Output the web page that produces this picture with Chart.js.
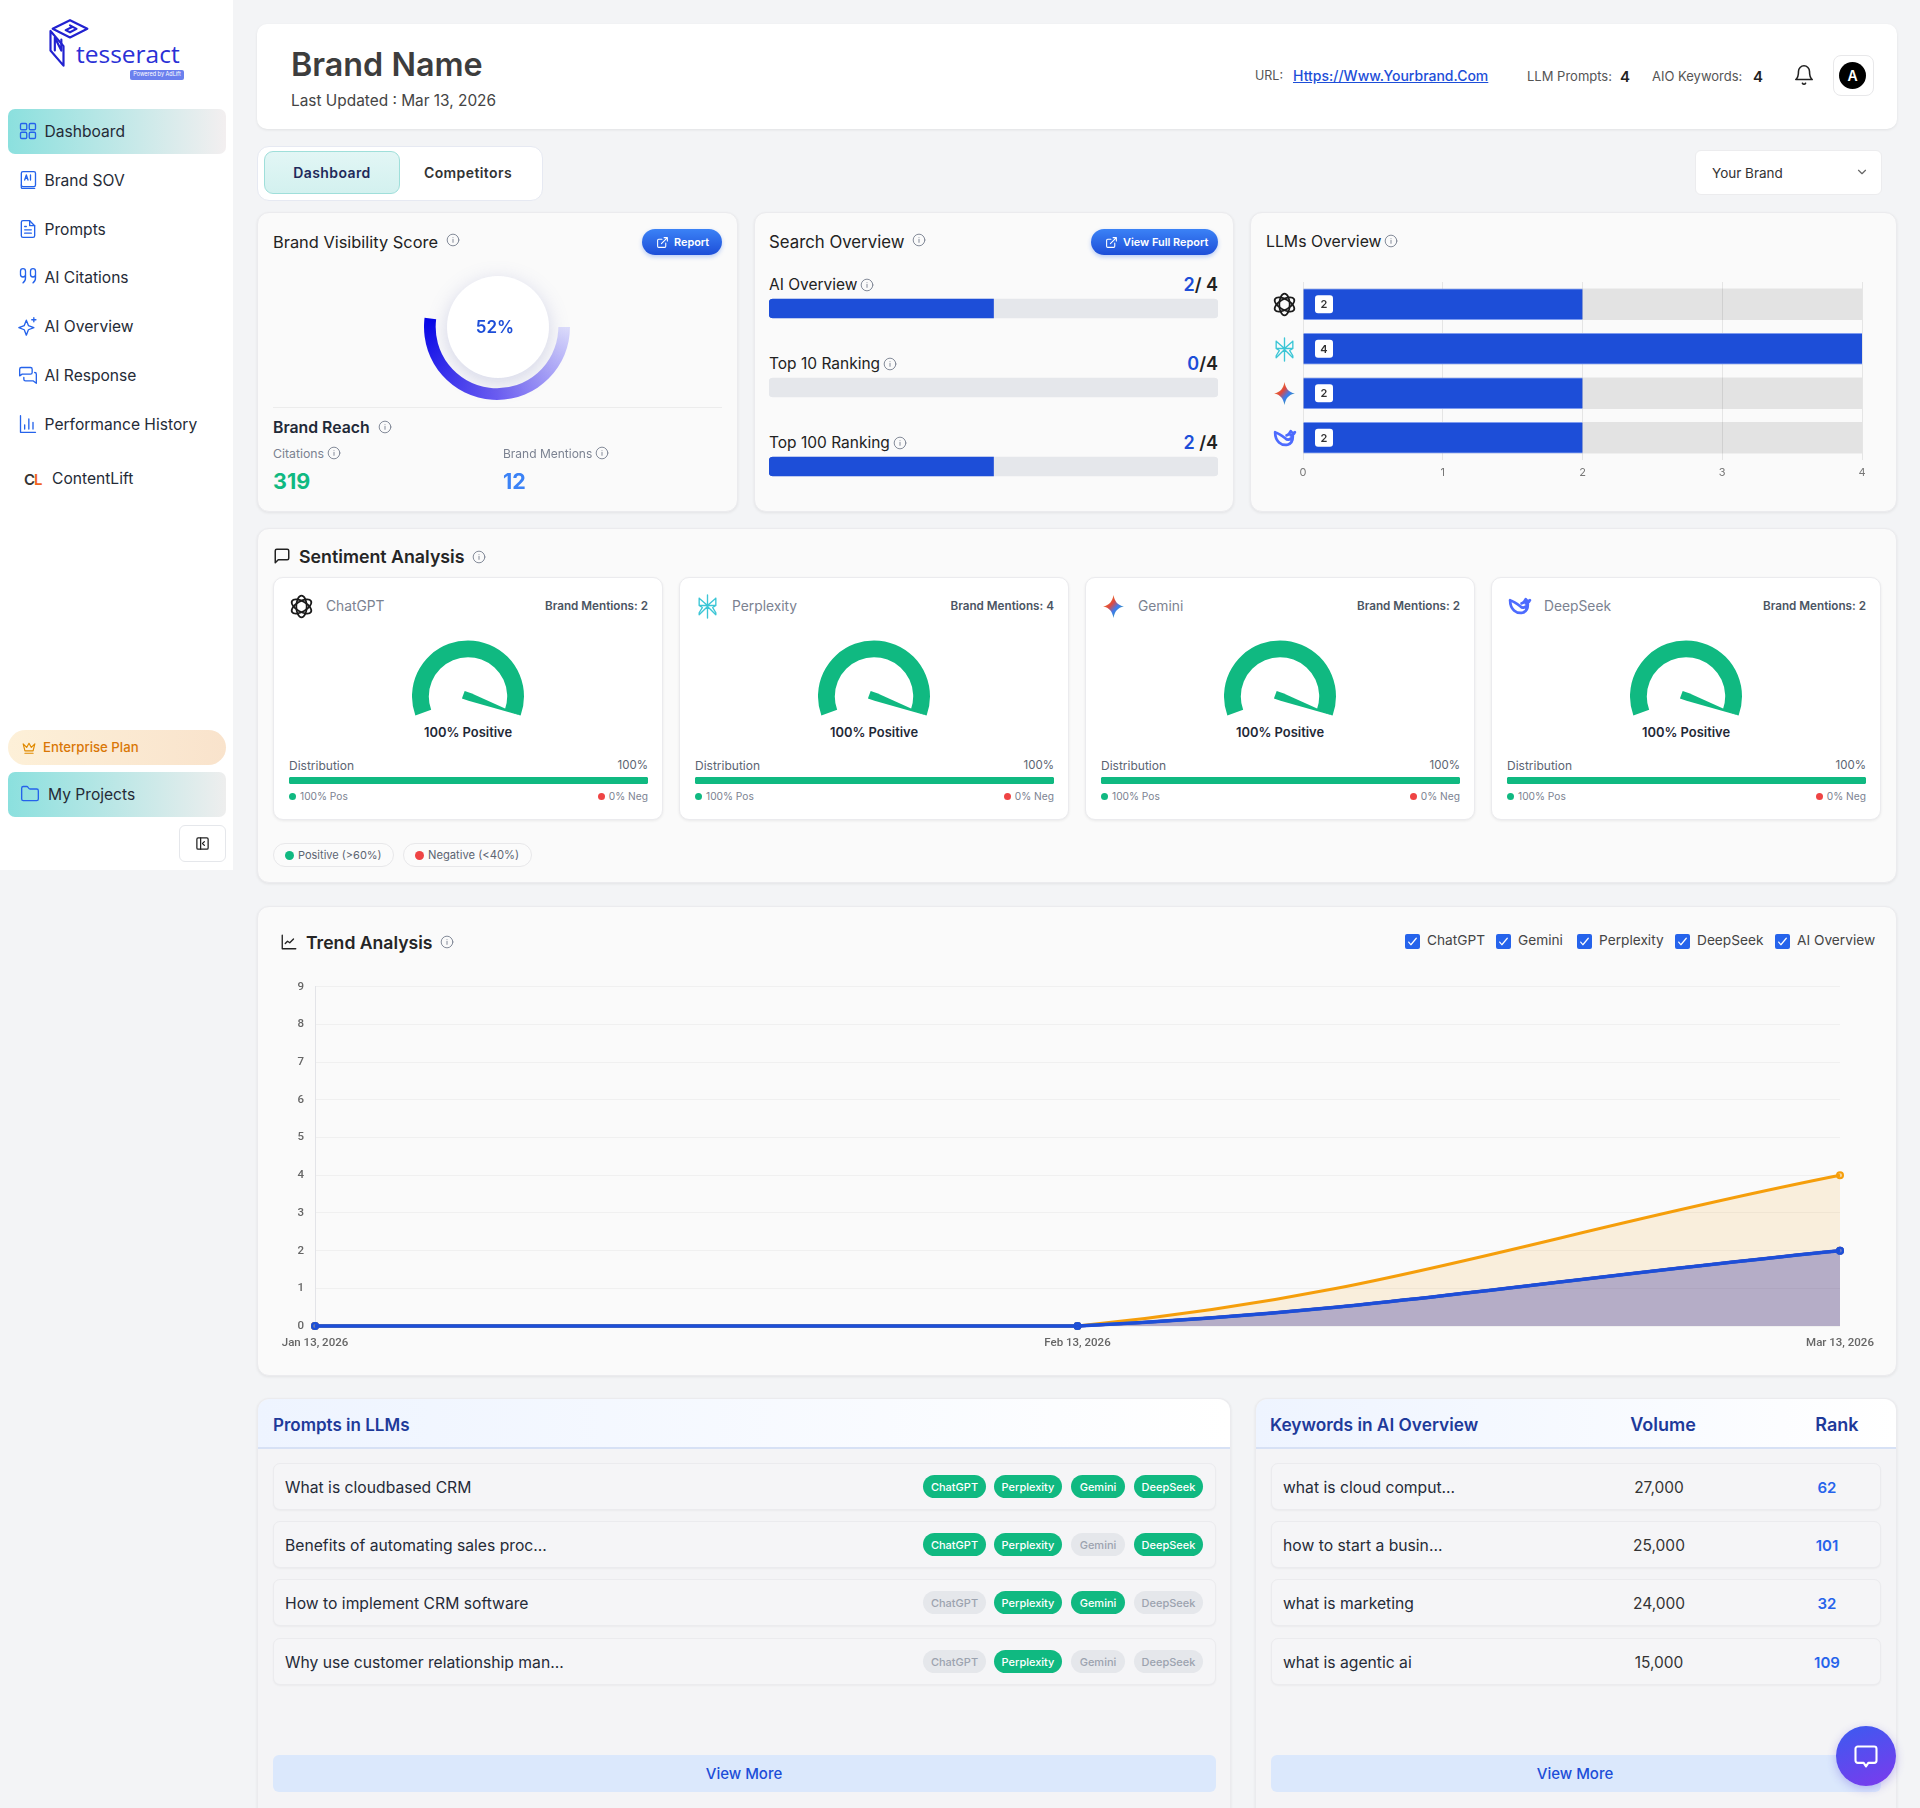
<!DOCTYPE html>
<html>
<head>
<meta charset="utf-8">
<title>Brand Dashboard</title>
<script src="https://cdn.jsdelivr.net/npm/chart.js@4"></script>
<style>
  html, body { margin: 0; padding: 0; background: #f3f4f6; }
  #page { position: relative; width: 1920px; height: 1808px; overflow: hidden; font-family: Inter, sans-serif; color: #1f2937; }
  #page div, #page span, #page svg, #page canvas { position: absolute; box-sizing: border-box; }
  .txt { white-space: nowrap; line-height: 1; }
  .card { background: #fafafa; border: 1px solid #ebebee; border-radius: 12px; box-shadow: 0 1px 3px rgba(0,0,0,.07); }
  .sub { background: #fff; border: 1px solid #ebebee; border-radius: 10px; box-shadow: 0 1px 3px rgba(0,0,0,.07); }
</style>
</head>
<body>
<div id="page"></div>
<script>
const navLabels = ['Dashboard', 'Brand SOV', 'Prompts', 'AI Citations', 'AI Overview', 'AI Response', 'Performance History'];

const gaugeScore = 52;
const citations = 319;
const brandMentions = 12;

const searchLabels = ['AI Overview', 'Top 10 Ranking', 'Top 100 Ranking'];
const searchValues = [2, 0, 2];
const searchTexts = ['2/ 4', '0/4', '2 /4'];
const searchTotal = 4;

const llmNames = ['ChatGPT', 'Perplexity', 'Gemini', 'DeepSeek'];
const llmValues = [2, 4, 2, 2];
const llmMax = 4;

const sentimentPositive = [100, 100, 100, 100];
const sentimentNegative = [0, 0, 0, 0];

const trendDates = ['Jan 13, 2026', 'Feb 13, 2026', 'Mar 13, 2026'];
const trendLegend = ['ChatGPT', 'Gemini', 'Perplexity', 'DeepSeek', 'AI Overview'];
const trendChatGPT = [0, 0, 2];
const trendGemini = [0, 0, 2];
const trendPerplexity = [0, 0, 4];
const trendDeepSeek = [0, 0, 2];
const trendAIOverview = [0, 0, 2];
const trendTicksMax = 9;

const promptTexts = ['What is cloudbased CRM', 'Benefits of automating sales proc...', 'How to implement CRM software', 'Why use customer relationship man...'];
const promptBadges = ['ChatGPT', 'Perplexity', 'Gemini', 'DeepSeek'];
const promptActive = [[1, 1, 1, 1], [1, 1, 0, 1], [0, 1, 1, 0], [0, 1, 0, 0]];

const keywordTexts = ['what is cloud comput...', 'how to start a busin...', 'what is marketing', 'what is agentic ai'];
const keywordVolumes = ['27,000', '25,000', '24,000', '15,000'];
const keywordRanks = [62, 101, 32, 109];

const BLUE = '#1d4ed8';
const GREEN = '#10b981';
const page = document.getElementById('page');

Chart.defaults.animation = false;
Chart.defaults.responsive = false;
Chart.defaults.devicePixelRatio = 1;
Chart.defaults.plugins.legend.display = false;
Chart.defaults.plugins.tooltip.enabled = false;
Chart.defaults.font.family = 'Inter';

function box(x, y, w, h, css, cls) {
  const d = document.createElement('div');
  d.style.cssText = `left:${x}px;top:${y}px;width:${w}px;height:${h}px;${css || ''}`;
  if (cls) d.className = cls;
  page.appendChild(d);
  return d;
}

// anchor: 0 left, .5 centre, 1 right; y is the vertical centre of the text
function text(x, y, str, size, css, anchor) {
  const s = document.createElement('span');
  s.className = 'txt';
  s.style.cssText = `left:${x}px;top:${y}px;font-size:${size}px;transform:translate(${-(anchor || 0) * 100}%,-50%);${css || ''}`;
  s.innerHTML = str;
  page.appendChild(s);
  return s;
}

function icon(cx, cy, size, inner, color, width) {
  const wrap = document.createElement('div');
  wrap.style.cssText = `left:${cx - size / 2}px;top:${cy - size / 2}px;width:${size}px;height:${size}px;`;
  wrap.innerHTML = `<svg viewBox="0 0 24 24" width="${size}" height="${size}" fill="none" stroke="${color}" stroke-width="${width || 2}" stroke-linecap="round" stroke-linejoin="round">${inner}</svg>`;
  page.appendChild(wrap);
  return wrap;
}

const INFO = '<circle cx="12" cy="12" r="10"/><path d="M12 16v-5M12 8h.01"/>';
function info(cx, cy) { icon(cx, cy, 14, INFO, '#7b8291', 1.6); }

function canvas(x, y, w, h, z) {
  const c = document.createElement('canvas');
  c.width = w; c.height = h;
  c.style.cssText = `left:${x}px;top:${y}px;width:${w}px;height:${h}px;${z ? 'z-index:' + z : ''}`;
  page.appendChild(c);
  return c;
}

function llmIcon(name, cx, cy, size) {
  if (name === 'ChatGPT') {
    icon(cx, cy, size, '<ellipse cx="12" cy="12" rx="5" ry="10.5"/><ellipse cx="12" cy="12" rx="5" ry="10.5" transform="rotate(60 12 12)"/><ellipse cx="12" cy="12" rx="5" ry="10.5" transform="rotate(120 12 12)"/>', '#1a1a1a', 1.7);
  } else if (name === 'Perplexity') {
    icon(cx, cy, size, '<path d="M12 1v22M4 4l8 7 8-7M4 20l8-8 8 8M4 4v7l3 2-3 5v2M20 4v7l-3 2 3 5v2M4 11h16"/>', '#3cc6d6', 1.3);
  } else if (name === 'Gemini') {
    const w = icon(cx, cy, size, '', 'none');
    const id = 'g' + Math.round(cx) + Math.round(cy);
    w.firstChild.innerHTML = `<defs><linearGradient id="${id}" x1="0" y1="0" x2="1" y2="1"><stop offset="0" stop-color="#f0a020"/><stop offset=".4" stop-color="#e0483e"/><stop offset=".6" stop-color="#3d7cf0"/><stop offset="1" stop-color="#27a85f"/></linearGradient></defs><path d="M12 1c1 6 4 10 10 11-6 1-9 5-10 11-1-6-4-10-10-11 6-1 9-5 10-11z" fill="url(#${id})" stroke="none"/>`;
  } else {
    icon(cx, cy, size, '<path d="M3 6c0 9 6 13 12 12 3-1 5-4 5-8-2 3-5 4-7 2M3 6c3 1 6 3 10 6M14 9c2 0 3-2 4-4 1 2 3 2 4 1-1 2-2 3-4 3"/>', '#4d6bfe', 2.6);
  }
}

function sidebar() {
  box(0, 0, 233, 870, 'background:#fff;');
  // logo
  icon(70, 44, 52, '<path d="M12 1l8 4-8 4-8-4zM12 3.4l3 1.6-3 1.6-2-1 3-1.4M3 6v9l6 7v-9z"/><path d="M5 9v6M5 9l3 6v-5"/>', '#2222d0', 1);
  text(76, 54, 'tesseract', 24.5, 'color:#2a2fd6;font-family:\'Open Sans\';');
  box(130, 70, 54, 10, 'background:#6b80ee;border-radius:2px;');
  text(157, 75, 'Powered by AdLift', 5.5, 'color:#fff;', .5);

  box(8, 109, 218, 45, 'background:linear-gradient(90deg,#8be0de,#f3eff0);border-radius:7px;');
  const navY = [131, 180, 229, 277, 326, 375, 424];
  const navIcons = [
    '<rect x="3" y="3" width="7.5" height="7.5" rx="1.5"/><rect x="13.5" y="3" width="7.5" height="7.5" rx="1.5"/><rect x="3" y="13.5" width="7.5" height="7.5" rx="1.5"/><rect x="13.5" y="13.5" width="7.5" height="7.5" rx="1.5"/>',
    '<rect x="4" y="2" width="17" height="18" rx="2"/><path d="M4 18v3a1 1 0 0 0 1 1h15M8 12l2-6 2 6M9 10h2M15 6v6"/>',
    '<path d="M14 2H6a2 2 0 0 0-2 2v16a2 2 0 0 0 2 2h12a2 2 0 0 0 2-2V8z"/><path d="M14 2v6h6M8 13h8M8 17h8M8 9h2"/>',
    '<path d="M3 5a3 3 0 0 1 6 0v8a7 7 0 0 1-3 6M3 5v4a3 3 0 0 0 6 0M15 5a3 3 0 0 1 6 0v8a7 7 0 0 1-3 6M15 5v4a3 3 0 0 0 6 0"/>',
    '<path d="M10 5l2.5 6.5L19 14l-6.5 2.5L10 23l-2.5-6.5L1 14l6.5-2.5z"/><path d="M19 2v5M16.5 4.5h5"/>',
    '<path d="M15 3H4a2 2 0 0 0-2 2v8l3-2h10a2 2 0 0 0 2-2V5a2 2 0 0 0-2-2zM20 9a2 2 0 0 1 2 2v11l-4-3H9a2 2 0 0 1-2-2v-2"/>',
    '<path d="M3 2v20h18M8 18v-5M13 18V6M18 18v-8"/>'
  ];
  navLabels.forEach((label, i) => {
    icon(28, navY[i], 20, navIcons[i], '#2563eb', 1.6);
    text(44.5, navY[i] + 1, label, 15.6, 'color:#252b37;');
  });
  text(24, 479, 'C', 15, 'color:#333;font-weight:600;');
  text(34, 479, 'L', 15, 'color:#f2641e;font-weight:600;');
  text(52, 479, 'ContentLift', 15.6, 'color:#252b37;');

  box(8, 730, 218, 35, 'background:linear-gradient(90deg,#fdf0d8,#f9e3cc);border-radius:18px;');
  icon(29, 748, 14, '<path d="M2 5l3 12h14l3-12-6 6-4-7-4 7zM5 21h14"/>', '#e08a00', 2);
  text(43, 748, 'Enterprise Plan', 13.2, 'color:#d97706;font-weight:500;');
  box(8, 772, 218, 45, 'background:linear-gradient(90deg,#8be0de,#eeeeee);border-radius:7px;');
  icon(30, 794, 20, '<path d="M20 20a2 2 0 0 0 2-2V8a2 2 0 0 0-2-2h-7.9a2 2 0 0 1-1.69-.9L9.6 3.9A2 2 0 0 0 7.93 3H4a2 2 0 0 0-2 2v13a2 2 0 0 0 2 2Z"/>', '#2563eb', 1.6);
  text(48, 795, 'My Projects', 15.6, 'color:#252b37;');
  box(179, 825, 47, 37, 'background:#fff;border:1px solid #e5e7eb;border-radius:6px;');
  icon(202, 843, 15, '<rect x="3" y="3" width="18" height="18" rx="2"/><path d="M9 3v18M15 9l-3 3 3 3"/>', '#222', 2);
}

function header() {
  box(257, 24, 1640, 105, 'background:#fff;box-shadow:0 1px 3px rgba(0,0,0,.08);border-radius:10px;');
  text(291, 65, 'Brand Name', 32.3, 'color:#3d3d3d;font-weight:600;');
  text(291, 101, 'Last Updated : Mar 13, 2026', 15.4, 'color:#444;');
  text(1255, 75.5, 'URL:', 12.5, 'color:#555;');
  text(1293, 75.5, 'Https://Www.Yourbrand.Com', 14, 'color:#1d4ed8;text-decoration:underline;font-weight:500;');
  text(1527, 75.5, 'LLM Prompts:', 13, 'color:#555;');
  text(1620, 75.5, '4', 15, 'color:#222;font-weight:600;');
  text(1652, 75.5, 'AIO Keywords:', 13, 'color:#555;');
  text(1753, 75.5, '4', 15, 'color:#222;font-weight:600;');
  icon(1804, 75, 22, '<path d="M6 8a6 6 0 0 1 12 0c0 7 3 9 3 9H3s3-2 3-9"/><path d="M10.3 21a1.94 1.94 0 0 0 3.4 0"/>', '#222', 1.7);
  box(1833, 55, 41, 41, 'background:#fff;border:1px solid #e8e8ea;border-radius:8px;');
  box(1839, 62, 27, 27, 'background:#000;border-radius:50%;');
  text(1852.5, 75.5, 'A', 14, 'color:#fff;font-weight:600;', .5);

  box(257, 146, 286, 55, 'background:#fff;border:1px solid #e6e9f2;border-radius:12px;');
  box(264, 151, 136, 43, 'background:linear-gradient(180deg,#e2f6f5,#d3f1ef);border:1px solid #9fdfda;border-radius:9px;');
  text(332, 172.5, 'Dashboard', 14, 'color:#1e2a5a;font-weight:600;letter-spacing:.4px;', .5);
  text(468, 172.5, 'Competitors', 14, 'color:#333;font-weight:600;letter-spacing:.4px;', .5);
  box(1695, 150, 187, 45, 'background:#fff;border:1px solid #ececee;border-radius:6px;');
  text(1712, 174, 'Your Brand', 13.5, 'color:#333;');
  icon(1862, 172, 14, '<path d="m6 9 6 6 6-6"/>', '#666', 2);
}

function pillButton(x, y, w, label) {
  box(x, y, w, 26, 'background:linear-gradient(180deg,#3b82f6,#1d4ed8);border-radius:13px;box-shadow:0 2px 4px rgba(37,99,235,.3);');
  icon(x + 20, y + 13, 13, '<path d="M18 13v6a2 2 0 0 1-2 2H5a2 2 0 0 1-2-2V8a2 2 0 0 1 2-2h6"/><path d="M15 3h6v6M10 14 21 3"/>', '#fff', 2);
  text(x + 32, y + 13, label, 10.9, 'color:#fff;font-weight:600;');
}

function visibilityCard() {
  box(257, 212, 481, 300, '', 'card');
  text(273, 242, 'Brand Visibility Score', 16.4, 'color:#222;');
  info(453, 240);
  pillButton(642, 229, 80, 'Report');

  new Chart(canvas(424, 254, 146, 146), {
    type: 'doughnut',
    data: { datasets: [{
      data: [gaugeScore, 100 - gaugeScore],
      borderWidth: 0,
      backgroundColor: c => {
        if (c.dataIndex !== 0) return 'rgba(0,0,0,0)';
        const { ctx, chartArea } = c.chart;
        if (!chartArea) return '#2a20ee';
        const g = ctx.createConicGradient(0, (chartArea.left + chartArea.right) / 2, (chartArea.top + chartArea.bottom) / 2);
        g.addColorStop(0, '#dcdcfb');
        g.addColorStop(.25, '#6a5cf2');
        g.addColorStop(.52, '#0505e6');
        g.addColorStop(1, '#dcdcfb');
        return g;
      }
    }] },
    options: { rotation: 90, cutout: '84%', layout: { padding: 0 } }
  });
  box(447, 276, 102, 102, 'background:#fff;border-radius:50%;box-shadow:0 5px 20px rgba(120,125,190,.3);');
  text(495, 327, gaugeScore + '%', 17, 'color:#1d4ed8;font-weight:600;', .5);

  box(273, 407, 449, 1, 'background:#ececec;');
  text(273, 428, 'Brand Reach', 15.8, 'color:#1f2937;font-weight:600;');
  info(385, 427);
  text(273, 453.5, 'Citations', 12.3, 'color:#7b8291;');
  info(334, 453);
  text(503, 453.5, 'Brand Mentions', 12, 'color:#7b8291;');
  info(602, 453);
  text(273, 482, citations, 21.5, 'color:#10b981;font-weight:700;');
  text(503, 482, brandMentions, 21.5, 'color:#3b82f6;font-weight:700;');
}

function searchCard() {
  box(754, 212, 480, 300, '', 'card');
  text(769, 242, 'Search Overview', 16.8, 'color:#222;');
  info(919, 240);
  pillButton(1091, 229, 127, 'View Full Report');

  const labelW = [89, 112, 122];
  searchLabels.forEach((label, i) => {
    const y = 285 + i * 79;
    text(769, y, label, 15.5, 'color:#222;');
    info(769 + labelW[i] + 9, y);
    const s = searchTexts[i].replace(/^(\d)/, '<b style="color:#1d4ed8;font-weight:600">$1</b>');
    text(1218, y, s, 18, 'color:#222;font-weight:600;', 1);
  });

  new Chart(canvas(769, 269, 449, 237), {
    type: 'bar',
    data: {
      labels: searchLabels,
      datasets: [
        { data: searchValues, backgroundColor: c => (c.raw ? BLUE : 'rgba(0,0,0,0)'), barThickness: 19, grouped: false, borderSkipped: false, borderRadius: { topLeft: 4, bottomLeft: 4 } },
        { data: searchLabels.map(() => searchTotal), backgroundColor: '#e5e7eb', barThickness: 19, grouped: false, borderSkipped: false, borderRadius: 4 }
      ]
    },
    options: {
      indexAxis: 'y',
      layout: { padding: 0 },
      scales: { x: { display: false, min: 0, max: searchTotal }, y: { display: false } }
    }
  });
}

const llmLabelPlugin = {
  id: 'llmLabels',
  afterDatasetsDraw(chart) {
    const { ctx } = chart;
    chart.getDatasetMeta(0).data.forEach((bar, i) => {
      const left = chart.scales.x.getPixelForValue(0) + 12;
      ctx.save();
      ctx.fillStyle = '#fff';
      ctx.beginPath();
      ctx.roundRect(left, bar.y - 9, 18, 18, 3);
      ctx.fill();
      ctx.fillStyle = '#333';
      ctx.font = '600 11px Inter';
      ctx.textAlign = 'center';
      ctx.textBaseline = 'middle';
      ctx.fillText(llmValues[i], left + 9, bar.y + .5);
      ctx.restore();
    });
  }
};

function llmCard() {
  box(1250, 212, 647, 300, '', 'card');
  text(1266, 242, 'LLMs Overview', 15.8, 'color:#222;');
  info(1391, 241);

  new Chart(canvas(1290, 272, 590, 218), {
    type: 'bar',
    data: {
      labels: llmNames,
      datasets: [
        { data: llmValues, backgroundColor: BLUE, borderColor: '#7f9cf0', borderWidth: { top: 1, bottom: 1 }, borderSkipped: false, barThickness: 31, grouped: false },
        { data: llmNames.map(() => llmMax), backgroundColor: 'rgba(0,0,0,.09)', barThickness: 31, grouped: false }
      ]
    },
    options: {
      indexAxis: 'y',
      layout: { padding: { left: 13, right: 18, top: 10 } },
      scales: {
        x: {
          min: 0, max: llmMax,
          ticks: { stepSize: 1, color: '#777', font: { size: 11 }, padding: 6 },
          grid: { color: '#e5e5e5', drawTicks: false },
          border: { display: false },
          afterFit: s => { s.height = 30; }
        },
        y: { display: false }
      }
    },
    plugins: [llmLabelPlugin]
  });
  llmNames.forEach((name, i) => llmIcon(name, 1284, 304.5 + i * 44.5, 25));
}

const needlePlugin = {
  id: 'needle',
  afterDatasetsDraw(chart) {
    const { ctx } = chart;
    const arc = chart.getDatasetMeta(0).data[0];
    const vals = chart.data.datasets[0].data;
    const share = vals[0] / (vals[0] + vals[1]);
    const angle = (chart.options.rotation - 90 + chart.options.circumference * share) * Math.PI / 180;
    ctx.save();
    ctx.translate(arc.x, arc.y);
    ctx.rotate(angle);
    ctx.fillStyle = GREEN;
    ctx.beginPath();
    ctx.moveTo(-5, -4);
    ctx.lineTo(2, -4);
    ctx.lineTo(arc.outerRadius, 0);
    ctx.lineTo(2, 4);
    ctx.lineTo(-5, 4);
    ctx.closePath();
    ctx.fill();
    ctx.restore();
  }
};

function sentimentCard() {
  box(256.5, 528, 1640.5, 355, '', 'card');
  icon(282, 556, 18, '<path d="M21 15a2 2 0 0 1-2 2H7l-4 4V5a2 2 0 0 1 2-2h14a2 2 0 0 1 2 2z"/>', '#222', 2);
  text(299, 556.5, 'Sentiment Analysis', 17.8, 'color:#252525;font-weight:600;');
  info(479, 557);

  llmNames.forEach((name, i) => {
    const x = 273 + i * 406;
    box(x, 577, 390, 243, '', 'sub');
    llmIcon(name, x + 28, 606, 25);
    text(x + 53, 607, name, 13.8, 'color:#7b8291;');
    text(x + 375, 606.5, 'Brand Mentions: ' + llmValues[i], 11.7, 'color:#4b5563;font-weight:600;', 1);

    new Chart(canvas(x + 139, 640, 112, 76), {
      type: 'doughnut',
      data: { datasets: [{ data: [sentimentPositive[i], sentimentNegative[i]], backgroundColor: [GREEN, '#ef4444'], borderWidth: 0 }] },
      options: { rotation: -110, circumference: 220, cutout: '70%', layout: { padding: 0 } },
      plugins: [needlePlugin]
    });

    text(x + 195, 733, sentimentPositive[i] + '% Positive', 12.9, 'color:#1f2937;font-weight:600;', .5);
    text(x + 16, 766, 'Distribution', 12, 'color:#5b6472;');
    text(x + 375, 766, sentimentPositive[i] + '%', 11.5, 'color:#5b6472;', 1);

    new Chart(canvas(x + 16, 777, 359, 7), {
      type: 'bar',
      data: { labels: ['Positive'], datasets: [{ data: [sentimentPositive[i]], backgroundColor: GREEN, barThickness: 7, borderRadius: 3, borderSkipped: false }] },
      options: { indexAxis: 'y', layout: { padding: 0 }, scales: { x: { display: false, min: 0, max: 100 }, y: { display: false } } }
    });

    box(x + 16, 793, 7, 7, `background:${GREEN};border-radius:50%;`);
    text(x + 27, 796, sentimentPositive[i] + '% Pos', 10.2, 'color:#7b8291;');
    box(x + 325, 793, 7, 7, 'background:#ef4444;border-radius:50%;');
    text(x + 375, 796, sentimentNegative[i] + '% Neg', 10.2, 'color:#7b8291;', 1);
  });

  box(273, 843, 121, 24, 'background:#fbfbfb;border:1px solid #e8e8ea;border-radius:12px;');
  box(285, 851, 9, 9, `background:${GREEN};border-radius:50%;`);
  text(298, 855, 'Positive (&gt;60%)', 11, 'color:#5b6472;');
  box(403, 843, 129, 24, 'background:#fbfbfb;border:1px solid #e8e8ea;border-radius:12px;');
  box(415, 851, 9, 9, 'background:#ef4444;border-radius:50%;');
  text(428, 855.5, 'Negative (&lt;40%)', 11.2, 'color:#5b6472;');
}

function trendDataset(data, color, alphaHex, width) {
  return {
    data,
    borderColor: color,
    backgroundColor: color + alphaHex,
    borderWidth: width,
    fill: 'origin',
    tension: 0.4,
    clip: false,
    pointRadius: 3,
    pointBorderWidth: 2,
    pointBackgroundColor: color + '66',
    pointBorderColor: color
  };
}

function trendCard() {
  box(256.5, 906, 1640.5, 470, '', 'card');
  icon(289, 942, 18, '<path d="M3 3v18h18M7 14l3-3 3 2 5-5"/>', '#222', 1.8);
  text(306, 942.5, 'Trend Analysis', 17.6, 'color:#252525;font-weight:600;');
  info(447, 942);

  const boxX = [1405, 1496, 1577, 1675, 1775];
  trendLegend.forEach((label, i) => {
    box(boxX[i], 934, 15, 15, 'background:#2563eb;border-radius:2px;');
    icon(boxX[i] + 7.5, 941.5, 13, '<path d="M5 13l4 5 10-12"/>', '#fff', 2.2);
    text(boxX[i] + 22, 941, label, 13.7, 'color:#444;');
  });

  new Chart(canvas(270, 969, 1610, 391), {
    type: 'line',
    data: {
      labels: trendDates,
      datasets: [
        trendDataset(trendChatGPT, '#1d4ed8', '26', 3.5),
        trendDataset(trendGemini, '#46a0b4', '26', 3),
        trendDataset(trendPerplexity, '#f59e0b', '1f', 3),
        trendDataset(trendDeepSeek, '#7c3aed', '26', 3),
        trendDataset(trendAIOverview, '#ef4444', '26', 3)
      ]
    },
    options: {
      layout: { padding: { top: 6, right: 40 } },
      scales: {
        x: {
          offset: false,
          grid: { display: false },
          border: { display: false },
          ticks: { autoSkip: false, maxRotation: 0, color: '#666', font: { family: 'Roboto', size: 11.5, weight: '500' }, padding: 2 },
          afterFit: s => { s.height = 34; }
        },
        y: {
          min: 0, max: trendTicksMax,
          ticks: { stepSize: 1, color: '#666', font: { family: 'Roboto', size: 11.5, weight: '500' }, padding: 11 },
          grid: { color: '#f0f0f0', drawTicks: false, lineWidth: 1 },
          border: { color: '#e3e4e8' },
          afterFit: s => { s.width = 45; }
        }
      }
    }
  });
}

function listRow(x, y, w) { box(x, y, w, 47, 'background:#f5f5f7;border:1px solid #ebebee;border-radius:7px;box-shadow:0 1px 2px rgba(0,0,0,.04);'); }

function promptsCard() {
  box(257, 1398, 974, 430, 'background:#f4f4f6;border-radius:12px;', 'card');
  box(258, 1399, 972, 50, 'background:linear-gradient(90deg,#eef4ff,#fff);border-bottom:2px solid #d7e1f5;border-radius:12px 12px 0 0;');
  text(273, 1425, 'Prompts in LLMs', 17, 'color:#1e3a9a;font-weight:600;');

  const rowY = [1463, 1521, 1579, 1638];
  const badgeX = [923, 994, 1071, 1134];
  const badgeW = [63, 68, 54, 69];
  promptTexts.forEach((p, i) => {
    listRow(273, rowY[i], 943);
    text(285, rowY[i] + 25, p, 15.7, 'color:#252b37;');
    promptBadges.forEach((b, j) => {
      const on = promptActive[i][j];
      box(badgeX[j], rowY[i] + 12, badgeW[j], 23, `background:${on ? GREEN : '#e5e7eb'};border-radius:12px;`);
      text(badgeX[j] + badgeW[j] / 2, rowY[i] + 23.5, b, 11, `color:${on ? '#fff' : '#9ca3af'};font-weight:500;`, .5);
    });
  });
  box(273, 1755, 943, 37, 'background:#dbe8fc;border-radius:6px;');
  text(744, 1773, 'View More', 15, 'color:#1d4ed8;font-weight:500;', .5);
}

function keywordsCard() {
  box(1255, 1398, 642, 430, 'background:#f4f4f6;border-radius:12px;', 'card');
  box(1256, 1399, 640, 50, 'background:linear-gradient(90deg,#eef4ff,#fff);border-bottom:2px solid #d7e1f5;border-radius:12px 12px 0 0;');
  text(1270, 1425, 'Keywords in AI Overview', 17.3, 'color:#1e3a9a;font-weight:600;');
  text(1663, 1425, 'Volume', 18, 'color:#1e3a9a;font-weight:600;', .5);
  text(1837, 1425, 'Rank', 18, 'color:#1e3a9a;font-weight:600;', .5);

  const rowY = [1463, 1521, 1579, 1638];
  keywordTexts.forEach((k, i) => {
    listRow(1271, rowY[i], 610);
    text(1283, rowY[i] + 25, k, 15.7, 'color:#252b37;');
    text(1659, rowY[i] + 25, keywordVolumes[i], 15.5, 'color:#333;', .5);
    text(1827, rowY[i] + 24, keywordRanks[i], 15, 'color:#2563eb;font-weight:600;', .5);
  });
  box(1271, 1755, 610, 37, 'background:#dbe8fc;border-radius:6px;');
  text(1575, 1773, 'View More', 15, 'color:#1d4ed8;font-weight:500;', .5);

  box(1836, 1726, 60, 60, 'background:linear-gradient(160deg,#3b5bf0,#7c3aed);border-radius:50%;box-shadow:0 3px 10px rgba(80,60,220,.3);');
  icon(1866, 1757, 28, '<path d="M21 15a2 2 0 0 1-2 2h-5l-2 3-2-3H5a2 2 0 0 1-2-2V5a2 2 0 0 1 2-2h14a2 2 0 0 1 2 2z"/>', '#fff', 1.8);
}

sidebar();
header();
visibilityCard();
searchCard();
llmCard();
sentimentCard();
trendCard();
promptsCard();
keywordsCard();
</script>
</body>
</html>
